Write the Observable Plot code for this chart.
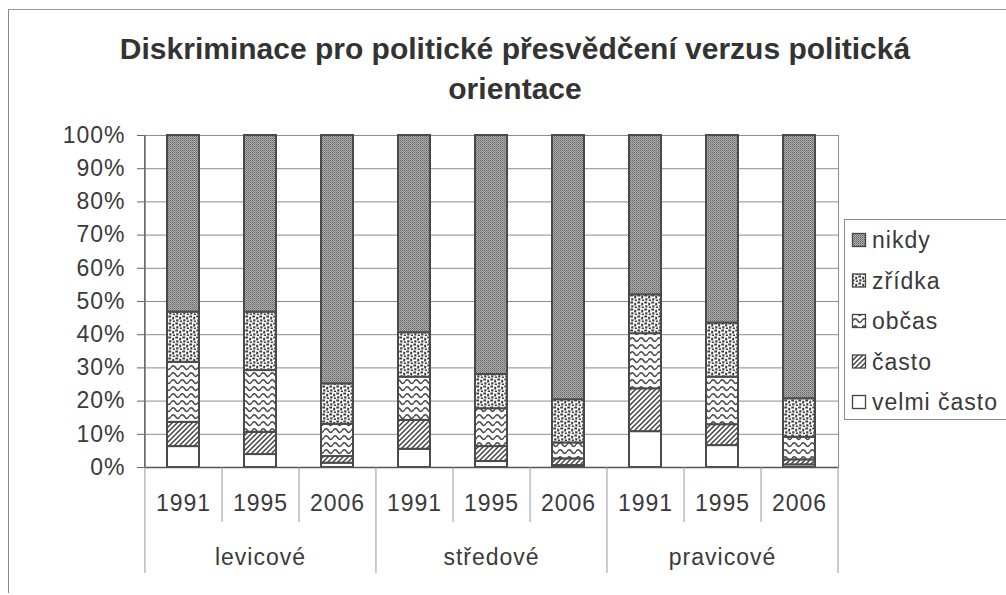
<!DOCTYPE html>
<html>
<head>
<meta charset="utf-8">
<script src="https://cdn.jsdelivr.net/npm/d3@7"></script>
<script src="https://cdn.jsdelivr.net/npm/@observablehq/plot@0.6"></script>
<style>
  html, body { margin: 0; padding: 0; background: #fff; }
  #wrap { position: relative; width: 1006px; height: 595px; overflow: hidden; font-family: "Liberation Sans", Arial, sans-serif; color: #3a3a3a; }
  #outer { position: absolute; left: 8px; top: 9px; width: 1010px; height: 584px; border-left: 1px solid #8a8a8a; border-top: 1px solid #9a9a9a; box-sizing: border-box; }
  #title { position: absolute; left: 15px; width: 1000px; top: 29px; text-align: center; font-weight: bold; font-size: 30px; line-height: 40px; color: #333; }
  #chart { position: absolute; left: 0; top: 0; }
  #legend { position: absolute; left: 844px; top: 219px; }
  #defs { position: absolute; width: 0; height: 0; }
</style>
</head>
<body>
<div id="wrap">
  <svg id="defs" width="0" height="0">
    <defs>
      <pattern id="p-nikdy" patternUnits="userSpaceOnUse" width="2" height="2">
        <rect width="2" height="2" fill="#adadad"/>
        <rect width="1" height="1" fill="#686868"/>
        <rect x="1" y="1" width="1" height="1" fill="#828282"/>
      </pattern>
      <pattern id="p-zridka" patternUnits="userSpaceOnUse" width="7" height="7">
        <rect width="7" height="7" fill="#fff"/>
        <path d="M0.3 0.6h2.8v2h-2.8z M4.2 1.8h2v2.6h-2z M1.2 4.2h2.2v2.4h-2.2z M4.8 5.6h2.2v1.4h-2.2z" fill="#3e3e3e"/>
      </pattern>
      <pattern id="p-obcas" patternUnits="userSpaceOnUse" width="9" height="7">
        <rect width="9" height="7" fill="#fff"/>
        <path d="M0 3.5 C1.5 1, 3 1, 4.5 3.5 S7.5 6, 9 3.5" fill="none" stroke="#4a4a4a" stroke-width="1.5"/>
      </pattern>
      <pattern id="p-casto" patternUnits="userSpaceOnUse" width="5" height="5">
        <rect width="5" height="5" fill="#fff"/>
        <path d="M-1 1 L1 -1 M0 5 L5 0 M4 6 L6 4" stroke="#444" stroke-width="1.5"/>
      </pattern>
      <pattern id="p-velmi" patternUnits="userSpaceOnUse" width="4" height="4">
        <rect width="4" height="4" fill="#fff"/>
      </pattern>
    </defs>
  </svg>
  <div id="outer"></div>
  <div id="title">Diskriminace pro politické přesvědčení verzus politická<br>orientace</div>
  <div id="chart"></div>
  <svg id="legend" width="162" height="201"></svg>
</div>
<script>
// ---- data ----
const groups = ["levicové", "středové", "pravicové"];
const years = ["1991", "1995", "2006"];
const series = ["nikdy", "zřídka", "občas", "často", "velmi často"]; // legend order (top to bottom)
const stackOrder = ["velmi často", "často", "občas", "zřídka", "nikdy"]; // bottom to top
const yTicks = [0, 10, 20, 30, 40, 50, 60, 70, 80, 90, 100];

// values per bar: levicové 1991,1995,2006 | středové 1991,1995,2006 | pravicové 1991,1995,2006
const velmiCasto = [6.3, 3.9, 1.3, 5.5, 1.8, 0.6, 10.8, 6.6, 0.8];
const casto      = [7.3, 6.7, 2.0, 8.7, 4.5, 2.0, 12.9, 6.3, 1.5];
const obcas      = [18.1, 18.6, 9.7, 13.0, 11.4, 4.8, 16.6, 14.3, 6.8];
const zridka     = [15.1, 17.6, 12.2, 13.4, 10.3, 13.0, 11.7, 16.3, 11.6];
const nikdy      = [53.2, 53.2, 74.8, 59.4, 72.0, 79.6, 48.0, 56.5, 79.3];

const seriesValues = {"velmi často": velmiCasto, "často": casto, "občas": obcas, "zřídka": zridka, "nikdy": nikdy};
const patterns = {"nikdy": "url(#p-nikdy)", "zřídka": "url(#p-zridka)", "občas": "url(#p-obcas)", "často": "url(#p-casto)", "velmi často": "url(#p-velmi)"};

// ---- build table ----
const keys = [];
groups.forEach(g => years.forEach(y => keys.push(g + "|" + y)));
const rows = [];
stackOrder.forEach(s => seriesValues[s].forEach((v, i) => rows.push({key: keys[i], series: s, value: v})));

// layout
const W = 1006, H = 595, mL = 144, mR = 168, mT = 135, mB = 128;
const step = (W - mL - mR) / keys.length;
const yScaleUnit = (H - mT - mB) / 100;
const yearSepLen = -55 / yScaleUnit;
const groupSepLen = -106 / yScaleUnit;

const yearSeps = keys.filter((k, i) => i % years.length !== years.length - 1);
const groupStarts = keys.filter((k, i) => i % years.length === 0);
const groupMids = groups.map((g, i) => ({key: keys[i * years.length + 1], label: g}));

const plot = Plot.plot({
  width: W, height: H,
  marginLeft: mL, marginRight: mR, marginTop: mT, marginBottom: mB,
  style: {fontFamily: "'Liberation Sans', Arial, sans-serif", fontSize: "23px", color: "#3a3a3a", background: "transparent", letterSpacing: "1px"},
  x: {type: "band", domain: keys, paddingInner: 0.59, paddingOuter: 0.295, axis: null, label: null},
  y: {domain: [0, 100], axis: null, label: null},
  color: {type: "ordinal", domain: series, range: series.map(s => patterns[s])},
  marks: [
    Plot.gridY(yTicks, {stroke: "#8c8c8c", strokeOpacity: 1, strokeWidth: 1}),
    Plot.frame({stroke: "#8c8c8c", strokeWidth: 1}),
    Plot.axisY(yTicks, {tickSize: 7, tickPadding: 12, tickFormat: d => d + "%", stroke: "#666", fill: "#3a3a3a", label: null}),
    Plot.barY(rows, {x: "key", y: "value", fill: "series", order: stackOrder, stroke: "#4a4a4a", strokeWidth: 2}),
    Plot.ruleY([0], {stroke: "#555", strokeWidth: 1.5}),
    Plot.ruleX([keys[0]], {x: d => d, dx: -step / 2, y1: 100, y2: 0, stroke: "#666", strokeWidth: 1.5}),
    Plot.axisX({tickSize: 0, tickPadding: 27, tickFormat: k => k.split("|")[1], fill: "#3a3a3a", label: null}),
    Plot.ruleX(yearSeps, {x: d => d, dx: step / 2, y1: 0, y2: yearSepLen, stroke: "#999", strokeWidth: 1}),
    Plot.ruleX(groupStarts, {x: d => d, dx: -step / 2, y1: 0, y2: groupSepLen, stroke: "#999", strokeWidth: 1}),
    Plot.ruleX([keys[keys.length - 1]], {x: d => d, dx: step / 2, y1: 0, y2: groupSepLen, stroke: "#999", strokeWidth: 1}),
    Plot.text(groupMids, {x: "key", y: 0, dy: 90, text: "label", fill: "#3a3a3a", fontSize: 23})
  ]
});
document.getElementById("chart").appendChild(plot);

// ---- legend ----
const lg = d3.select("#legend");
lg.append("rect").attr("x", 0.5).attr("y", 0.5).attr("width", 170).attr("height", 200)
  .attr("fill", "#fff").attr("stroke", "#8c8c8c");
series.forEach((s, i) => {
  const cy = 21 + i * 40.5;
  lg.append("rect").attr("x", 8.5).attr("y", cy - 6.5).attr("width", 13).attr("height", 13)
    .attr("fill", patterns[s]).attr("stroke", "#444").attr("stroke-width", 1.3);
  lg.append("text").attr("x", 28).attr("y", cy).attr("dy", "0.35em")
    .attr("font-family", "'Liberation Sans', Arial, sans-serif").attr("font-size", 23)
    .attr("letter-spacing", "1px").attr("fill", "#3a3a3a").text(s);
});
</script>
</body>
</html>
